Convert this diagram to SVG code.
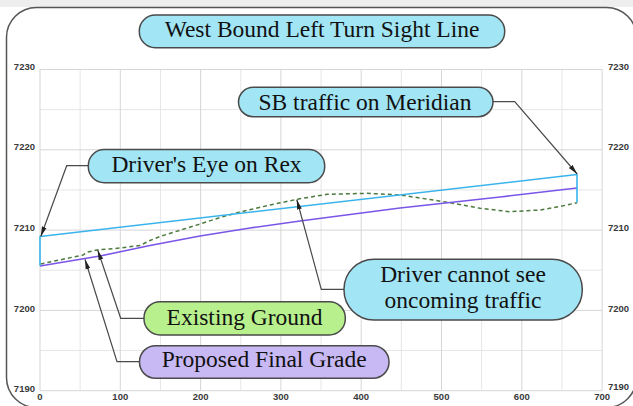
<svg xmlns="http://www.w3.org/2000/svg" width="633" height="406" viewBox="0 0 633 406">
<defs>
<style>
.grid-maj{stroke:#d6d6d6;stroke-width:1;fill:none}
.grid-min{stroke:#e6e6e6;stroke-width:1;fill:none}
.ax{font-family:"Liberation Sans",Arial,sans-serif;font-size:9.5px;font-weight:bold;fill:#3a3a3a}
.pill{stroke:#4a4a4a;stroke-width:1.5}
.cyan{fill:#a2e5f5}
.green{fill:#b8f08e}
.purple{fill:#c8b9f5}
.lbl{font-family:"Liberation Serif","Times New Roman",serif;font-size:23.5px;fill:#111;text-anchor:middle}
.conn{stroke:#4a4a4a;stroke-width:1.2;fill:none;marker-end:url(#arr)}
</style>
<marker id="arr" viewBox="0 0 10 6" refX="10" refY="3" markerWidth="10" markerHeight="6" markerUnits="userSpaceOnUse" orient="auto">
<path d="M0,0.6 L10,3 L0,5.4 Z" fill="#222"/>
</marker>
</defs>
<rect x="0" y="0" width="633" height="406" fill="#ffffff"/>
<rect x="0" y="0" width="633" height="7" fill="#eeeeee"/>
<rect x="6.5" y="7.5" width="630" height="400" rx="30" ry="30" fill="#ffffff" stroke="#555555" stroke-width="1.5"/>

<g id="grid">
<path class="grid-min" d="M80.15,69.5V390.7 M160.45,69.5V390.7 M240.75,69.5V390.7 M321.05,69.5V390.7 M401.35,69.5V390.7 M481.65,69.5V390.7 M561.95,69.5V390.7 M40,109.6H602.1 M40,189.9H602.1 M40,270.2H602.1 M40,350.5H602.1"/>
<path class="grid-maj" d="M120.3,69.5V390.7 M200.6,69.5V390.7 M280.9,69.5V390.7 M361.2,69.5V390.7 M441.5,69.5V390.7 M521.8,69.5V390.7 M40,149.8H602.1 M40,230.1H602.1 M40,310.4H602.1"/>
<rect x="40" y="69.5" width="562.1" height="321.2" class="grid-maj"/>
</g>

<g id="axis-labels" class="ax">
<text x="35" y="70" text-anchor="end">7230</text>
<text x="35" y="150" text-anchor="end">7220</text>
<text x="35" y="230.5" text-anchor="end">7210</text>
<text x="35" y="312" text-anchor="end">7200</text>
<text x="35" y="392" text-anchor="end">7190</text>
<text x="608" y="70">7230</text>
<text x="608" y="150">7220</text>
<text x="608" y="230.5">7210</text>
<text x="608" y="312">7200</text>
<text x="608" y="390">7190</text>
<text x="40" y="400" text-anchor="middle">0</text>
<text x="120.3" y="400" text-anchor="middle">100</text>
<text x="200.6" y="400" text-anchor="middle">200</text>
<text x="280.9" y="400" text-anchor="middle">300</text>
<text x="361.2" y="400" text-anchor="middle">400</text>
<text x="441.5" y="400" text-anchor="middle">500</text>
<text x="521.8" y="400" text-anchor="middle">600</text>
<text x="602.1" y="400" text-anchor="middle">700</text>
</g>

<g id="profiles">
<path id="existing-ground" d="M40.5,264 L83,255 L88,252 L97,250 L120,248 L140,245.5 L150,240.5 L160,236.5 L200,224 L220,217.5 L240,212 L270,205 L297,199.3 L327,194.3 L367,193.3 L400,195 L430,199.5 L450,202.7 L480,208.3 L510,211.7 L540,210 L560,206.5 L577,202.7" fill="none" stroke="#4d7a3e" stroke-width="1.5" stroke-dasharray="4,3" stroke-linejoin="round"/>
<path id="proposed-grade" d="M40,266 L100,256 L150,245.5 L200,236 L250,228 L300,221 L400,208 L500,197 L577,188" fill="none" stroke="#7a55e8" stroke-width="1.6" stroke-linejoin="round"/>
<path id="sight-line" d="M40,265.5 V236.5 L577,174.5 V202.7" fill="none" stroke="#3ab4ec" stroke-width="1.6" stroke-linejoin="round"/>
</g>

<g id="connectors">
<path class="conn" d="M88.3,165.7 H66.7 L40.8,236.5"/>
<path class="conn" d="M493,101.7 H514.7 L577.2,174"/>
<path class="conn" d="M144,318.3 H120.7 L97.7,250"/>
<path class="conn" d="M139.5,361.7 H117 L85,259.3"/>
<path class="conn" d="M344,289.3 H321.3 L296.8,199.5"/>
</g>

<g id="title">
<rect class="pill cyan" x="139.3" y="15" width="365.4" height="32.7" rx="16" ry="16"/>
<text class="lbl" x="322" y="37">West Bound Left Turn Sight Line</text>
</g>
<g id="sb-traffic">
<rect class="pill cyan" x="238.5" y="87.3" width="254.5" height="29.4" rx="14.7" ry="14.7"/>
<text class="lbl" x="365" y="110">SB traffic on Meridian</text>
</g>
<g id="drivers-eye">
<rect class="pill cyan" x="88.3" y="149.5" width="236.4" height="33.2" rx="16" ry="16"/>
<text class="lbl" x="206.5" y="171.7">Driver's Eye on Rex</text>
</g>
<g id="existing-ground-label">
<rect class="pill green" x="144" y="301.7" width="201.3" height="33.3" rx="16" ry="16"/>
<text class="lbl" x="244.6" y="324.5">Existing Ground</text>
</g>
<g id="proposed-grade-label">
<rect class="pill purple" x="139.5" y="345.7" width="249.5" height="32.6" rx="16" ry="16"/>
<text class="lbl" x="264.2" y="367">Proposed Final Grade</text>
</g>
<g id="driver-cannot-see">
<rect class="pill cyan" x="344" y="259.3" width="238.3" height="60.7" rx="30" ry="30"/>
<text class="lbl" x="463" y="281.7">Driver cannot see</text>
<text class="lbl" x="463" y="308.3">oncoming traffic</text>
</g>
</svg>
